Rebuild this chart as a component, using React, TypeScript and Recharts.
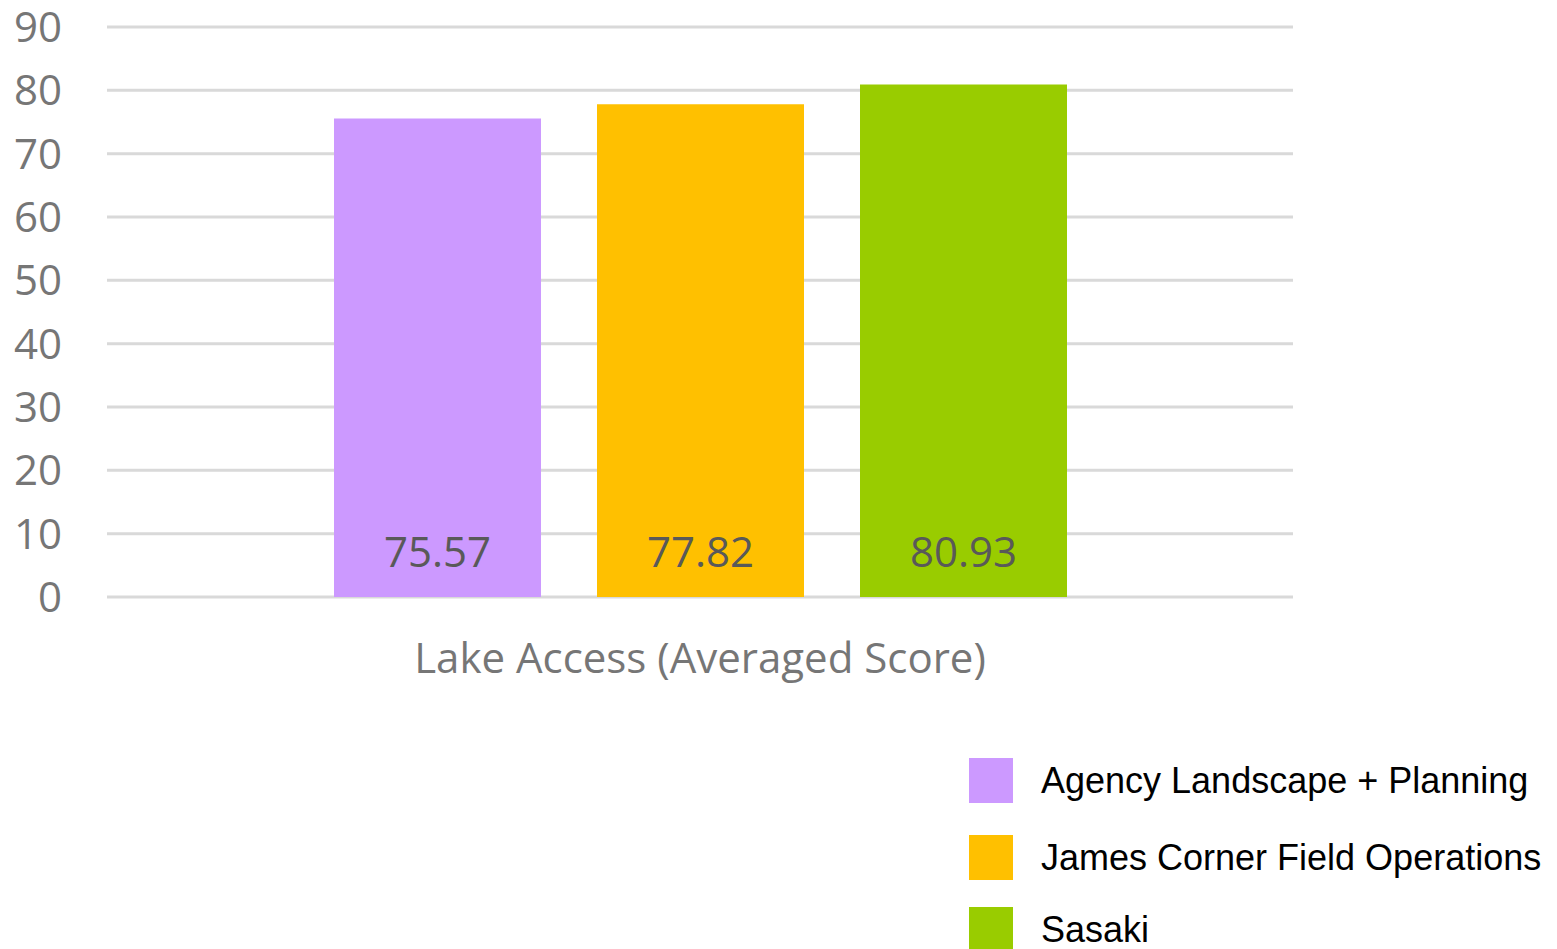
import React from "react";
import { BarChart, Bar, XAxis, YAxis, CartesianGrid, Legend, LabelList } from "recharts";

const categories = ["Lake Access (Averaged Score)"];
const seriesNames = ["Agency Landscape + Planning", "James Corner Field Operations", "Sasaki"];
const seriesKeys = ["agency", "james", "sasaki"];
const seriesValues = [75.57, 77.82, 80.93];
const seriesColors = ["#CC99FF", "#FFC000", "#99CC00"];
const yTicks = [0, 10, 20, 30, 40, 50, 60, 70, 80, 90];

const data = categories.map((name) => {
  const row: Record<string, any> = { name };
  seriesKeys.forEach((k, i) => {
    row[k] = seriesValues[i];
  });
  return row;
});

const AXIS_FONT = "'Open Sans', sans-serif";
const rowTops = [0, 77, 149];

const LegendContent = (props: any) => {
  const payload = props.payload || [];
  return (
    <div style={{ position: "relative", width: 600, height: 200 }}>
      {payload.map((entry: any, i: number) => (
        <div
          key={entry.value}
          style={{
            position: "absolute",
            left: 0,
            top: rowTops[i],
            height: 45,
            display: "flex",
            alignItems: "center",
          }}
        >
          <div style={{ width: 44, height: 45, background: entry.color }} />
          <span
            style={{
              marginLeft: 28,
              fontFamily: "'Liberation Sans', Arial, sans-serif",
              fontSize: 36,
              color: "#000",
              whiteSpace: "nowrap",
              lineHeight: "45px",
            }}
          >
            {entry.value}
          </span>
        </div>
      ))}
    </div>
  );
};

export default function App() {
  return (
    <div style={{ position: "absolute", left: 0, top: 0, width: 1557, height: 949, background: "#fff" }}>
      <BarChart
        width={1557}
        height={949}
        data={data}
        margin={{ top: 27, right: 264, left: 0, bottom: 0 }}
        barSize={207}
        barGap={56}
      >
        <CartesianGrid vertical={false} stroke="#d9d9d9" strokeWidth={3} />
        <XAxis
          dataKey="name"
          height={352}
          axisLine={false}
          tickLine={false}
          tickSize={0}
          tickMargin={46}
          tick={{ fill: "#767676", fontSize: 42, fontFamily: AXIS_FONT }}
        />
        <YAxis
          width={107}
          domain={[0, 90]}
          ticks={yTicks}
          interval={0}
          axisLine={false}
          tickLine={false}
          tickSize={0}
          tickMargin={45}
          tick={{ fill: "#767676", fontSize: 42, fontFamily: AXIS_FONT }}
        />
        <Legend
          layout="horizontal"
          verticalAlign="middle"
          align="center"
          content={<LegendContent />}
          wrapperStyle={{ left: 969, top: 758, width: 600 }}
        />
        {seriesKeys.map((k, i) => (
          <Bar key={k} dataKey={k} name={seriesNames[i]} fill={seriesColors[i]} isAnimationActive={false}>
            <LabelList
              dataKey={k}
              position="insideBottom"
              offset={30}
              fill="#595959"
              fontSize={42}
              fontFamily={AXIS_FONT}
              formatter={(v: any) => Number(v).toFixed(2)}
            />
          </Bar>
        ))}
      </BarChart>
    </div>
  );
}
